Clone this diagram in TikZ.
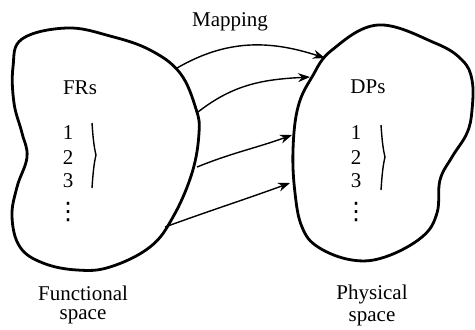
\documentclass[tikz,border=0pt]{standalone}
\usepackage{amsmath}
\usepackage{fontspec}
\setmainfont{Liberation Serif}
\newfontfamily\dotsfont{DejaVu Sans}
\usetikzlibrary{arrows.meta}

\begin{document}
\begin{tikzpicture}[x=0.5pt,y=0.5pt,
    blob/.style={line width=1.4pt},
    map/.style={line width=0.7pt,-{Stealth[length=6pt,width=4.5pt]}},
    group/.style={line width=0.7pt},
    txt/.style={inner sep=0pt,font=\fontsize{10.5}{12}\selectfont},
    dots/.style={inner sep=0pt,font=\fontsize{12}{13}\dotsfont}]
    \useasboundingbox (0,0) rectangle (475,329);
    % Spaces
    \draw[blob] plot[smooth cycle,tension=0.65] coordinates {(22,290) (67,301) (110,293) (150,279) (180,256) (196,220) (199,196) (192,156) (173,112) (150,82) (110,62) (77,59) (43,66) (20,82) (12,112) (17,142) (27,172) (22,196) (14,226) (13,262)};
    \draw[blob] plot[smooth cycle,tension=0.65] coordinates {(378,304) (435,286) (462,269) (472,249) (472,219) (467,196) (452,172) (440,149) (437,116) (422,92) (385,72) (352,69) (318,82) (302,102) (295,136) (293,179) (298,222) (312,252) (332,279)};
    % Nodes
    \node[txt] (map) at (230,307) {Mapping};
    \node[txt] (frs) at (80,241) {FRs};
    \node[txt] (f1) at (68,196) {1};
    \node[txt] (f2) at (68,171) {2};
    \node[txt] (f3) at (68,148) {3};
    \node[dots] (fd) at (68,117) {⋮};
    \node[txt] (dps) at (368,242) {DPs};
    \node[txt] (d1) at (356,196) {1};
    \node[txt] (d2) at (356,171) {2};
    \node[txt] (d3) at (356,148) {3};
    \node[dots] (dd) at (356,117) {⋮};
    \node[txt] (fs) at (83,36) {Functional};
    \node[txt] (fs2) at (83,12) {space};
    \node[txt] (ps) at (372,35) {Physical};
    \node[txt] (ps2) at (372,10) {space};
    % Ends of the arrows
    \coordinate (a1) at (177,261);
    \coordinate (a2) at (198,217);
    \coordinate (a3) at (197,162);
    \coordinate (a4) at (165,102);
    \coordinate (b1) at (325,271);
    \coordinate (b2) at (310,252);
    \coordinate (b3) at (292,194);
    \coordinate (b4) at (290,146);
    \coordinate (ft) at (92,206);
    \coordinate (fm) at (96,174);
    \coordinate (fb) at (92,141);
    \coordinate (dt) at (381,204);
    \coordinate (dm) at (385,172);
    \coordinate (db) at (381,139);
    % Edges
    \draw[map] (a1) to[out=30,in=162] (b1);
    \draw[map] (a2) to[out=38,in=183] (b2);
    \draw[map] (a3) to[out=22,in=200] (b3);
    \draw[map] (a4) to[out=20,in=200] (b4);
    \draw[group] (ft) .. controls +(1,-15) and +(-2,8) .. (fm) .. controls +(-2,-8) and +(1,15) .. (fb);
    \draw[group] (dt) .. controls +(1,-15) and +(-2,8) .. (dm) .. controls +(-2,-8) and +(1,15) .. (db);
\end{tikzpicture}
\end{document}
